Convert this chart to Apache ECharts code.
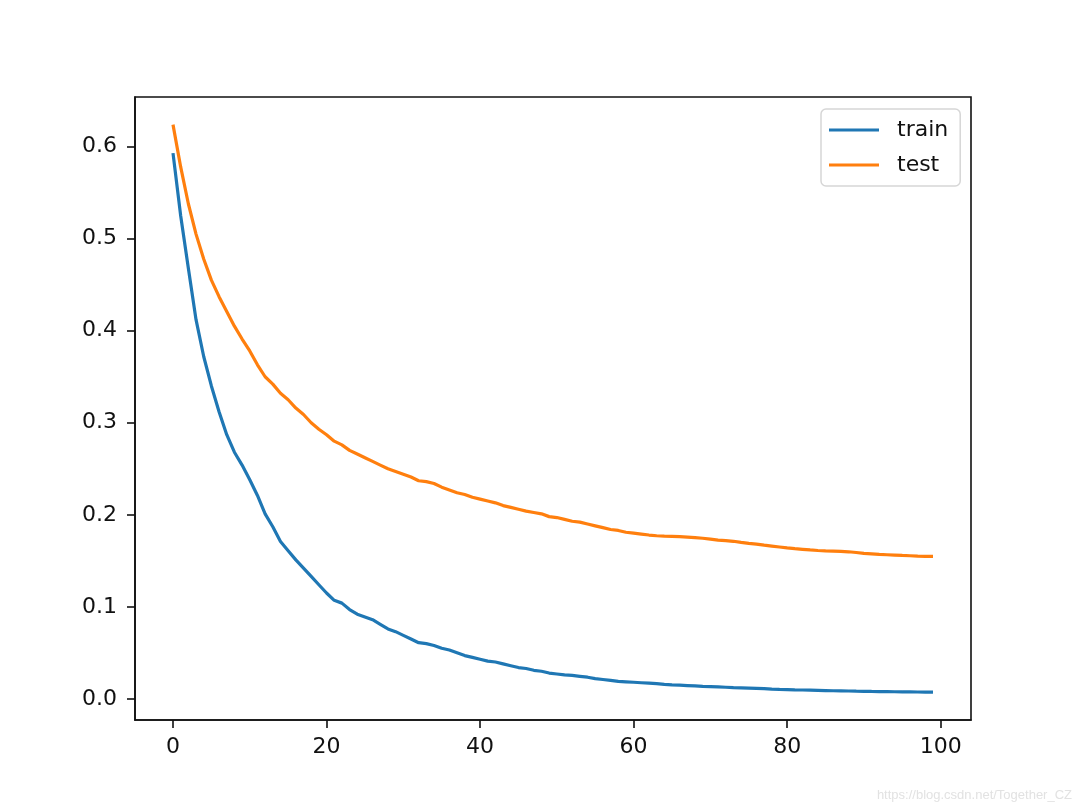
<html lang="en">
<head>
    <meta charset="utf-8">
    <title>train / test</title>
    <script src="https://cdn.jsdelivr.net/npm/echarts@6.0.0/dist/echarts.min.js"></script>
</head>
<style>
    html,body{
        margin:0;
        padding:0;
        background:#fff;
    }
    #chart{
        width:1080px;
        height:810px;
    }
</style>
<body>
<div id="chart"></div>
<script>
    // 数据
    var epochs=[];
    for(var i=0;i<100;i++){
        epochs.push(i);
    }
    var train=[
        0.593,0.525,0.468,0.412,0.372,0.340,0.312,0.287,0.268,0.254,
        0.238,0.221,0.201,0.187,0.171,0.161,0.151,0.142,0.133,0.124,
        0.115,0.107,0.104,0.097,0.092,0.089,0.086,0.081,0.076,0.073,
        0.069,0.065,0.061,0.060,0.058,0.055,0.053,0.050,0.047,0.045,
        0.043,0.041,0.040,0.038,0.036,0.034,0.033,0.031,0.030,0.028,
        0.027,0.026,0.0255,0.0245,0.0235,0.022,0.021,0.020,0.019,0.0185,
        0.018,0.0175,0.017,0.0165,0.0158,0.0152,0.0148,0.0144,0.014,0.0136,
        0.0133,0.013,0.0126,0.0122,0.0119,0.0116,0.0113,0.011,0.0106,0.0103,
        0.0101,0.0098,0.0096,0.0094,0.0092,0.009,0.0088,0.0087,0.0085,0.0083,
        0.0082,0.008,0.0079,0.0078,0.0077,0.0076,0.0075,0.0074,0.0073,0.0072
    ];
    var test=[
        0.624,0.578,0.538,0.505,0.478,0.455,0.437,0.421,0.405,0.391,
        0.378,0.363,0.350,0.342,0.332,0.325,0.316,0.309,0.300,0.293,
        0.287,0.280,0.276,0.270,0.266,0.262,0.258,0.254,0.250,0.247,
        0.244,0.241,0.237,0.236,0.234,0.230,0.227,0.224,0.222,0.219,
        0.217,0.215,0.213,0.210,0.208,0.206,0.204,0.2025,0.201,0.198,
        0.197,0.195,0.193,0.192,0.190,0.188,0.186,0.184,0.183,0.181,
        0.180,0.179,0.178,0.1772,0.1768,0.1765,0.1762,0.1757,0.1752,0.1745,
        0.1735,0.1725,0.172,0.1712,0.170,0.169,0.1682,0.167,0.166,0.165,
        0.164,0.1632,0.1625,0.1618,0.1612,0.1608,0.1605,0.1602,0.1598,0.159,
        0.158,0.1575,0.157,0.1566,0.1562,0.1558,0.1555,0.155,0.1548,0.1548
    ];
    var xTicks=[0,20,40,60,80,100];
    var yTicks=[0,0.1,0.2,0.3,0.4,0.5,0.6];
    var seriesNames=["train","test"];

    function pairs(ys){
        var out=[];
        for(var i=0;i<ys.length;i++){
            out.push([epochs[i],ys[i]]);
        }
        return out;
    }

    var myChart=echarts.init(document.getElementById("chart"),null,{renderer:"canvas"});
    var font="DejaVu Sans";
    var option={
        animation:false,
        backgroundColor:"#fff",
        grid:{
            left:135,
            top:97,
            width:836,
            height:623,
            show:true,
            borderColor:"#111",
            borderWidth:1.6,
            backgroundColor:"transparent"
        },
        legend:{
            data:[
                {name:seriesNames[0],icon:"rect"},
                {name:seriesNames[1],icon:"rect"}
            ],
            orient:"vertical",
            left:821,
            top:109,
            padding:[10,12,10,8],
            itemWidth:50,
            itemHeight:3,
            itemGap:13,
            backgroundColor:"#fff",
            borderColor:"#d6d6d6",
            borderWidth:1.5,
            borderRadius:5,
            textStyle:{
                fontFamily:font,
                fontSize:22,
                color:"#111",
                padding:[0,0,0,13]
            }
        },
        xAxis:{
            type:"value",
            min:-4.95,
            max:103.95,
            splitLine:{show:false},
            axisLine:{show:true,onZero:false,lineStyle:{color:"#111",width:1.6}},
            axisTick:{
                show:true,
                length:8,
                inside:false,
                customValues:xTicks,
                lineStyle:{color:"#111",width:1.6}
            },
            axisLabel:{
                customValues:xTicks,
                margin:16,
                fontFamily:font,
                fontSize:22,
                color:"#111"
            }
        },
        yAxis:{
            type:"value",
            min:-0.023,
            max:0.654,
            splitLine:{show:false},
            axisLine:{show:true,onZero:false,lineStyle:{color:"#111",width:1.6}},
            axisTick:{
                show:true,
                length:8,
                inside:false,
                customValues:yTicks,
                lineStyle:{color:"#111",width:1.6}
            },
            axisLabel:{
                customValues:yTicks,
                margin:18,
                fontFamily:font,
                fontSize:22,
                color:"#111",
                formatter:function(v){return v.toFixed(1);}
            }
        },
        series:[
            {
                name:seriesNames[0],
                type:"line",
                data:pairs(train),
                showSymbol:false,
                symbol:"none",
                color:"#1f77b4",
                lineStyle:{width:3.2,color:"#1f77b4"}
            },
            {
                name:seriesNames[1],
                type:"line",
                data:pairs(test),
                showSymbol:false,
                symbol:"none",
                color:"#ff7f0e",
                lineStyle:{width:3.2,color:"#ff7f0e"}
            }
        ],
        graphic:[
            {
                type:"text",
                right:8,
                bottom:8,
                style:{
                    text:"https://blog.csdn.net/Together_CZ",
                    fontFamily:"Liberation Sans",
                    fontSize:13,
                    fill:"#e2e2e2"
                }
            }
        ]
    };
    myChart.setOption(option);
</script>
</body>
</html>
